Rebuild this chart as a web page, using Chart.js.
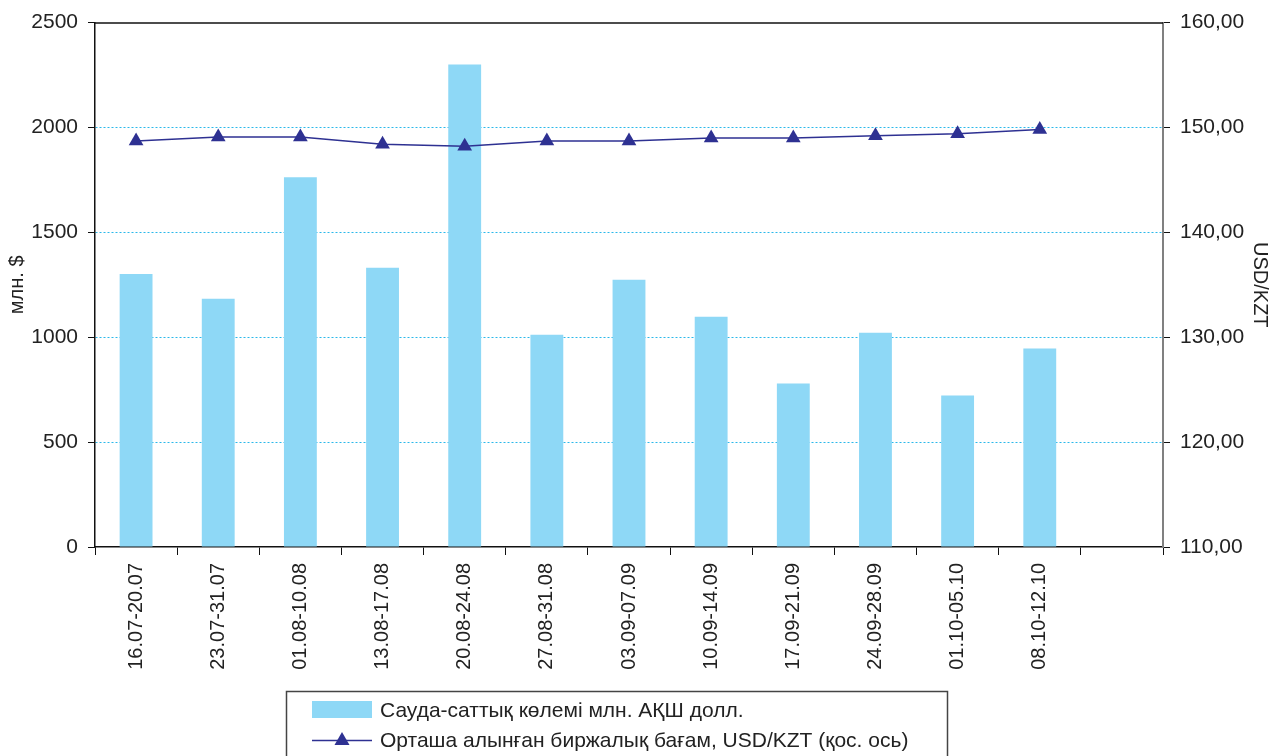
<!DOCTYPE html>
<html>
  <head>
    <meta charset="utf-8">
    <script src="https://cdn.jsdelivr.net/npm/chart.js@4.4.1/dist/chart.umd.min.js"></script>
    <style>
      body { margin: 0; background: #fff; }
      #wrap { width: 1276px; height: 756px; position: relative; }
    </style>
  </head>

  <body>
    <div id="wrap">
      <canvas id="canvas"></canvas>
    </div>
    <script>
      // weekly periods (last slot left empty)
      const periods = [
        '16.07-20.07', '23.07-31.07', '01.08-10.08', '13.08-17.08',
        '20.08-24.08', '27.08-31.08', '03.09-07.09', '10.09-14.09',
        '17.09-21.09', '24.09-28.09', '01.10-05.10', '08.10-12.10', ''
      ];
      // trading volume, mln USD
      const volume = [1302, 1183, 1763, 1331, 2300, 1012, 1274, 1098, 779, 1022, 722, 946];
      // average exchange rate, USD/KZT
      const rate = [148.7, 149.1, 149.1, 148.4, 148.2, 148.7, 148.7, 149.0, 149.0, 149.2, 149.4, 149.8];

      const volumeLabel = 'Сауда-саттық көлемі млн. АҚШ долл.';
      const rateLabel = 'Орташа алынған биржалық бағам, USD/KZT (қос. ось)';

      const FONT = 'Liberation Sans, Arial, Helvetica, sans-serif';
      const BAR = '#8ed8f6';
      const LINE = '#2e3192';
      const TXT = '#222222';

      Chart.defaults.font.family = FONT;
      Chart.defaults.color = TXT;

      // top frame line and boxed legend
      const frame = {
        id: 'frame',
        afterDraw(chart) {
          const { ctx, chartArea: a } = chart;
          ctx.save();
          ctx.strokeStyle = '#111';
          ctx.lineWidth = 1.5;
          ctx.beginPath();
          ctx.moveTo(a.left, a.top + 0.5);
          ctx.lineTo(a.right, a.top + 0.5);
          ctx.stroke();

          // legend box
          ctx.strokeStyle = '#444';
          ctx.lineWidth = 1.5;
          ctx.strokeRect(286.5, 691.5, 661, 80);

          ctx.fillStyle = BAR;
          ctx.fillRect(312, 701, 60, 17);

          ctx.strokeStyle = LINE;
          ctx.lineWidth = 1.5;
          ctx.beginPath();
          ctx.moveTo(312, 740.5);
          ctx.lineTo(372, 740.5);
          ctx.stroke();
          ctx.fillStyle = LINE;
          ctx.beginPath();
          ctx.moveTo(342, 732);
          ctx.lineTo(349.5, 745);
          ctx.lineTo(334.5, 745);
          ctx.closePath();
          ctx.fill();

          ctx.fillStyle = TXT;
          ctx.font = '21px ' + FONT;
          ctx.textBaseline = 'middle';
          ctx.fillText(chart.data.datasets[1].label, 380, 711);
          ctx.fillText(chart.data.datasets[0].label, 380, 741);
          ctx.restore();
        }
      };

      new Chart(document.getElementById('canvas').getContext('2d'), {
        data: {
          labels: periods,
          datasets: [
            {
              type: 'line',
              label: rateLabel,
              data: rate,
              yAxisID: 'y1',
              borderColor: LINE,
              backgroundColor: LINE,
              borderWidth: 1.5,
              pointStyle: 'triangle',
              pointRadius: 8.5,
              pointHoverRadius: 8.5,
              pointBorderWidth: 0,
              tension: 0,
              order: 0,
            },
            {
              type: 'bar',
              label: volumeLabel,
              data: volume,
              yAxisID: 'y',
              backgroundColor: BAR,
              barPercentage: 0.4,
              categoryPercentage: 1,
              order: 1,
            },
          ],
        },
        options: {
          responsive: true,
          maintainAspectRatio: false,
          animation: false,
          layout: { padding: { top: 21, left: 0, right: 0, bottom: 0 } },
          plugins: {
            legend: { display: false },
            tooltip: { enabled: false },
          },
          scales: {
            x: {
              offset: true,
              grid: {
                offset: true,
                drawOnChartArea: false,
                tickLength: 8,
                tickColor: '#111',
              },
              border: { color: '#111', width: 1.5 },
              ticks: {
                minRotation: 90,
                maxRotation: 90,
                autoSkip: false,
                padding: 8,
                font: { size: 20 },
                color: TXT,
              },
              afterFit(scale) { scale.height = 209; },
            },
            y: {
              position: 'left',
              min: 0,
              max: 2500,
              ticks: {
                stepSize: 500,
                padding: 10,
                font: { size: 21 },
                color: TXT,
                callback: (v) => String(v),
              },
              grid: {
                color: (c) => (c.tick && (c.tick.value === 0 || c.tick.value === 2500)) ? 'rgba(0,0,0,0)' : '#2bb8ea',
                tickColor: '#111',
                tickLength: 7,
                lineWidth: 1,
              },
              border: { color: '#111', width: 1.5, dash: [2, 2] },
              title: {
                display: true,
                text: 'млн. $',
                font: { size: 20 },
                color: TXT,
                padding: { top: 5, bottom: 0 },
              },
              afterFit(scale) { scale.width = 95; },
            },
            y1: {
              position: 'right',
              min: 110,
              max: 160,
              ticks: {
                stepSize: 10,
                padding: 10,
                font: { size: 21 },
                color: TXT,
                callback: (v) => v.toFixed(2).replace('.', ','),
              },
              grid: {
                drawOnChartArea: false,
                tickColor: '#111',
                tickLength: 7,
              },
              border: { color: '#808080', width: 2 },
              title: {
                display: true,
                text: 'USD/KZT',
                font: { size: 20 },
                color: TXT,
                padding: { top: 4, bottom: 0 },
              },
              afterFit(scale) { scale.width = 113; },
            },
          },
        },
        plugins: [frame],
      });
    </script>
  </body>
</html>
